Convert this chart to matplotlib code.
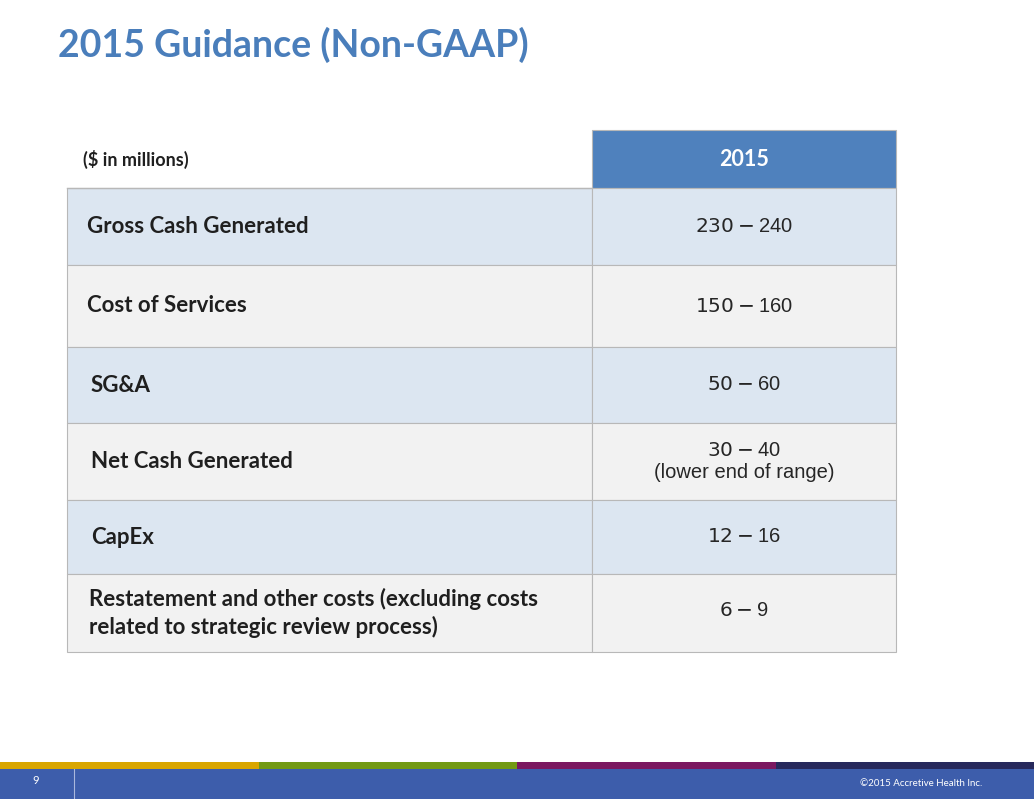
import matplotlib
matplotlib.use("Agg")
import matplotlib.pyplot as plt
from matplotlib.patches import Rectangle

title = "2015 Guidance (Non-GAAP)"
header_left = "($ in millions)"
header_right = "2015"
row_labels = ["Gross Cash Generated", "Cost of Services", "SG&A", "Net Cash Generated",
              "CapEx", "Restatement and other costs (excluding costs\nrelated to strategic review process)"]
row_values = ["$230 - $240", "$150 - $160", "$50  - $60", "$30 - $40\n(lower end of range)",
              "$12 - $16", "$6 - $9"]
label_x = [87, 87, 91, 91, 91, 89]
row_edges = [188, 265, 347, 423, 500, 574, 652]
row_colors = ["#dce6f1", "#f2f2f2", "#dce6f1", "#f2f2f2", "#dce6f1", "#f2f2f2"]

W, H = 1034, 799
fig = plt.figure(figsize=(W/100, H/100), dpi=100)
ax = fig.add_axes([0, 0, 1, 1])
ax.set_xlim(0, W); ax.set_ylim(H, 0); ax.axis("off")

ax.text(58, 45, title, fontsize=27, fontweight="bold", family="Lato", color="#4a7ebb", va="center", ha="left")

x0, x1, x2 = 67, 592, 896
ax.add_patch(Rectangle((x1, 130), x2-x1, 58, facecolor="#4f81bd", edgecolor="#b8b8b8", lw=0.8))
ax.text(83, 159, header_left, fontsize=13, fontweight="bold", family="Lato", color="#1f1f1f", va="center")
ax.text((x1+x2)/2, 159, header_right, fontsize=15.5, fontweight="bold", family="Lato", color="white", va="center", ha="center")
ax.plot([x0, x1], [188, 188], color="#b8b8b8", lw=1)

for i, (lab, val) in enumerate(zip(row_labels, row_values)):
    top, bot = row_edges[i], row_edges[i+1]
    ax.add_patch(Rectangle((x0, top), x1-x0, bot-top, facecolor=row_colors[i], edgecolor="#b8b8b8", lw=0.8))
    ax.add_patch(Rectangle((x1, top), x2-x1, bot-top, facecolor=row_colors[i], edgecolor="#b8b8b8", lw=0.8))
    cy = (top+bot)/2
    ax.text(label_x[i], cy, lab, fontsize=16, fontweight="bold", family="Lato", color="#1f1f1f",
            va="center", ha="left", linespacing=1.3)
    ax.text((x1+x2)/2, cy - (3 if i == 5 else 0), val, fontsize=14.5, family="Liberation Sans", color="#262626",
            va="center", ha="center", linespacing=1.25)

# footer
bars = ["#d9a600", "#739a14", "#7b1860", "#27295c"]
for i, c in enumerate(bars):
    ax.add_patch(Rectangle((i*W/4, 762), W/4, 7, facecolor=c, edgecolor="none"))
ax.add_patch(Rectangle((0, 769), W, 30, facecolor="#3d5dab", edgecolor="none"))
ax.plot([74, 74], [769, 799], color="#aab8dd", lw=0.8)
ax.text(36, 781, "9", fontsize=8, family="Lato", color="white", ha="center", va="center")
ax.text(982, 784, "©2015 Accretive Health Inc.", fontsize=7, family="Lato", color="white", ha="right", va="center")

fig.savefig("out.png", dpi=100)
